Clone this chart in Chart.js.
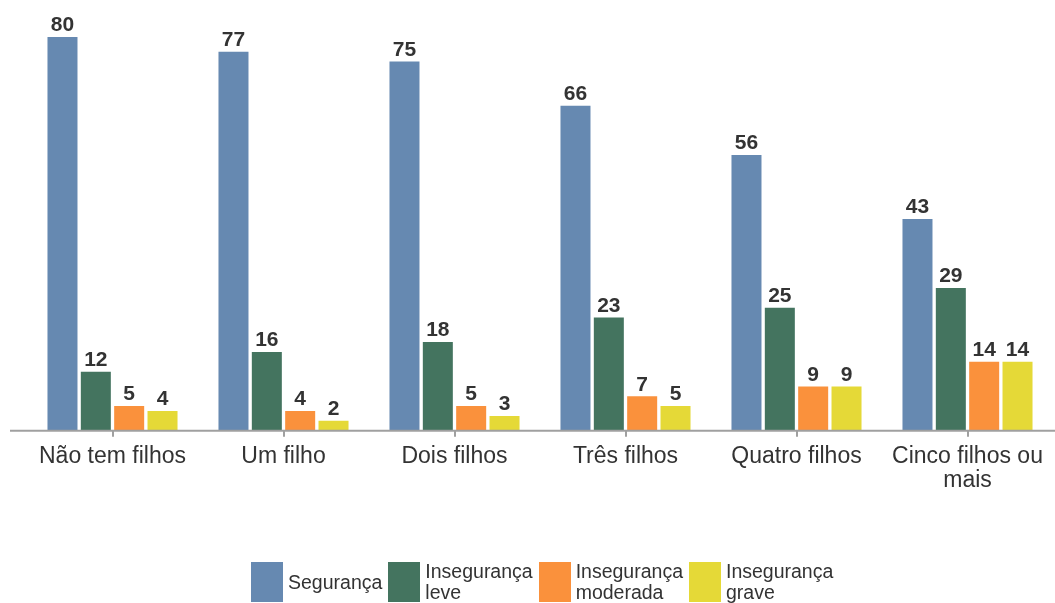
<!DOCTYPE html>
<html>
<head>
<meta charset="utf-8">
<script src="https://cdn.jsdelivr.net/npm/chart.js@4/dist/chart.umd.min.js"></script>
<style>
  html, body { margin:0; padding:0; background:#fff; }
  #wrap { position:relative; width:1055px; height:603px; }
  #legend { position:absolute; left:251px; top:561px; display:flex;
    font-family:"Liberation Sans", Arial, sans-serif; font-size:19.5px; color:#333; }
  .item { display:flex; align-items:center; margin-right:6px; }
  .box { width:32px; height:40px; margin-right:5px; }
  .txt { line-height:21px; }
</style>
</head>
<body>
<div id="wrap">
  <canvas id="chart" width="1055" height="603"></canvas>
  <div id="legend"></div>
</div>
<script>
const categories = ["Não tem filhos", "Um filho", "Dois filhos", "Três filhos", "Quatro filhos", ["Cinco filhos ou", "mais"]];
const seriesNames = ["Segurança", "Insegurança leve", "Insegurança moderada", "Insegurança grave"];
const legendLines = [["Segurança"], ["Insegurança", "leve"], ["Insegurança", "moderada"], ["Insegurança", "grave"]];
const seguranca = [80, 77, 75, 66, 56, 43];
const insegLeve = [12, 16, 18, 23, 25, 29];
const insegModerada = [5, 4, 5, 7, 9, 14];
const insegGrave = [4, 2, 3, 5, 9, 14];
const colors = ["#6689b1", "#44745f", "#fa913c", "#e5d937"];

const values = [seguranca, insegLeve, insegModerada, insegGrave];

// numbers above bars
const barLabels = {
  id: "barLabels",
  afterDatasetsDraw(c) {
    const ctx = c.ctx;
    ctx.save();
    ctx.font = "bold 21px 'Liberation Sans', Arial, sans-serif";
    ctx.fillStyle = "#333";
    ctx.textAlign = "center";
    ctx.textBaseline = "bottom";
    c.data.datasets.forEach((ds, i) => {
      c.getDatasetMeta(i).data.forEach((bar, j) => {
        ctx.fillText(ds.data[j], bar.x, bar.y - 1);
      });
    });
    // axis line runs a bit past the chart area on the left
    const y = c.scales.x.top;
    ctx.strokeStyle = "#a0a0a0";
    ctx.lineWidth = 2;
    ctx.beginPath();
    ctx.moveTo(10, y);
    ctx.lineTo(c.width, y);
    ctx.stroke();
    ctx.restore();
  }
};

new Chart(document.getElementById("chart"), {
  type: "bar",
  data: {
    labels: categories,
    datasets: values.map((v, i) => ({
      label: seriesNames[i],
      data: v,
      backgroundColor: colors[i],
      categoryPercentage: 0.78,
      barPercentage: 0.9
    }))
  },
  options: {
    responsive: false,
    animation: false,
    layout: { padding: { left: 27, right: 2, top: 0, bottom: 102 } },
    plugins: { legend: { display: false }, tooltip: { enabled: false } },
    scales: {
      x: {
        grid: { display: true, drawOnChartArea: false, offset: false, tickLength: 6, color: "#a0a0a0", lineWidth: 2 },
        border: { display: false },
        ticks: { color: "#333", padding: 8, maxRotation: 0, autoSkip: false,
          font: { family: "'Liberation Sans', Arial, sans-serif", size: 23, lineHeight: 1.05 } }
      },
      y: { display: false, min: 0, max: 87.5 }
    }
  },
  plugins: [barLabels]
});

const legend = document.getElementById("legend");
seriesNames.forEach((n, i) => {
  legend.innerHTML += `<div class="item"><div class="box" style="background:${colors[i]}"></div>
    <div class="txt">${legendLines[i].join("<br>")}</div></div>`;
});
</script>
</body>
</html>
